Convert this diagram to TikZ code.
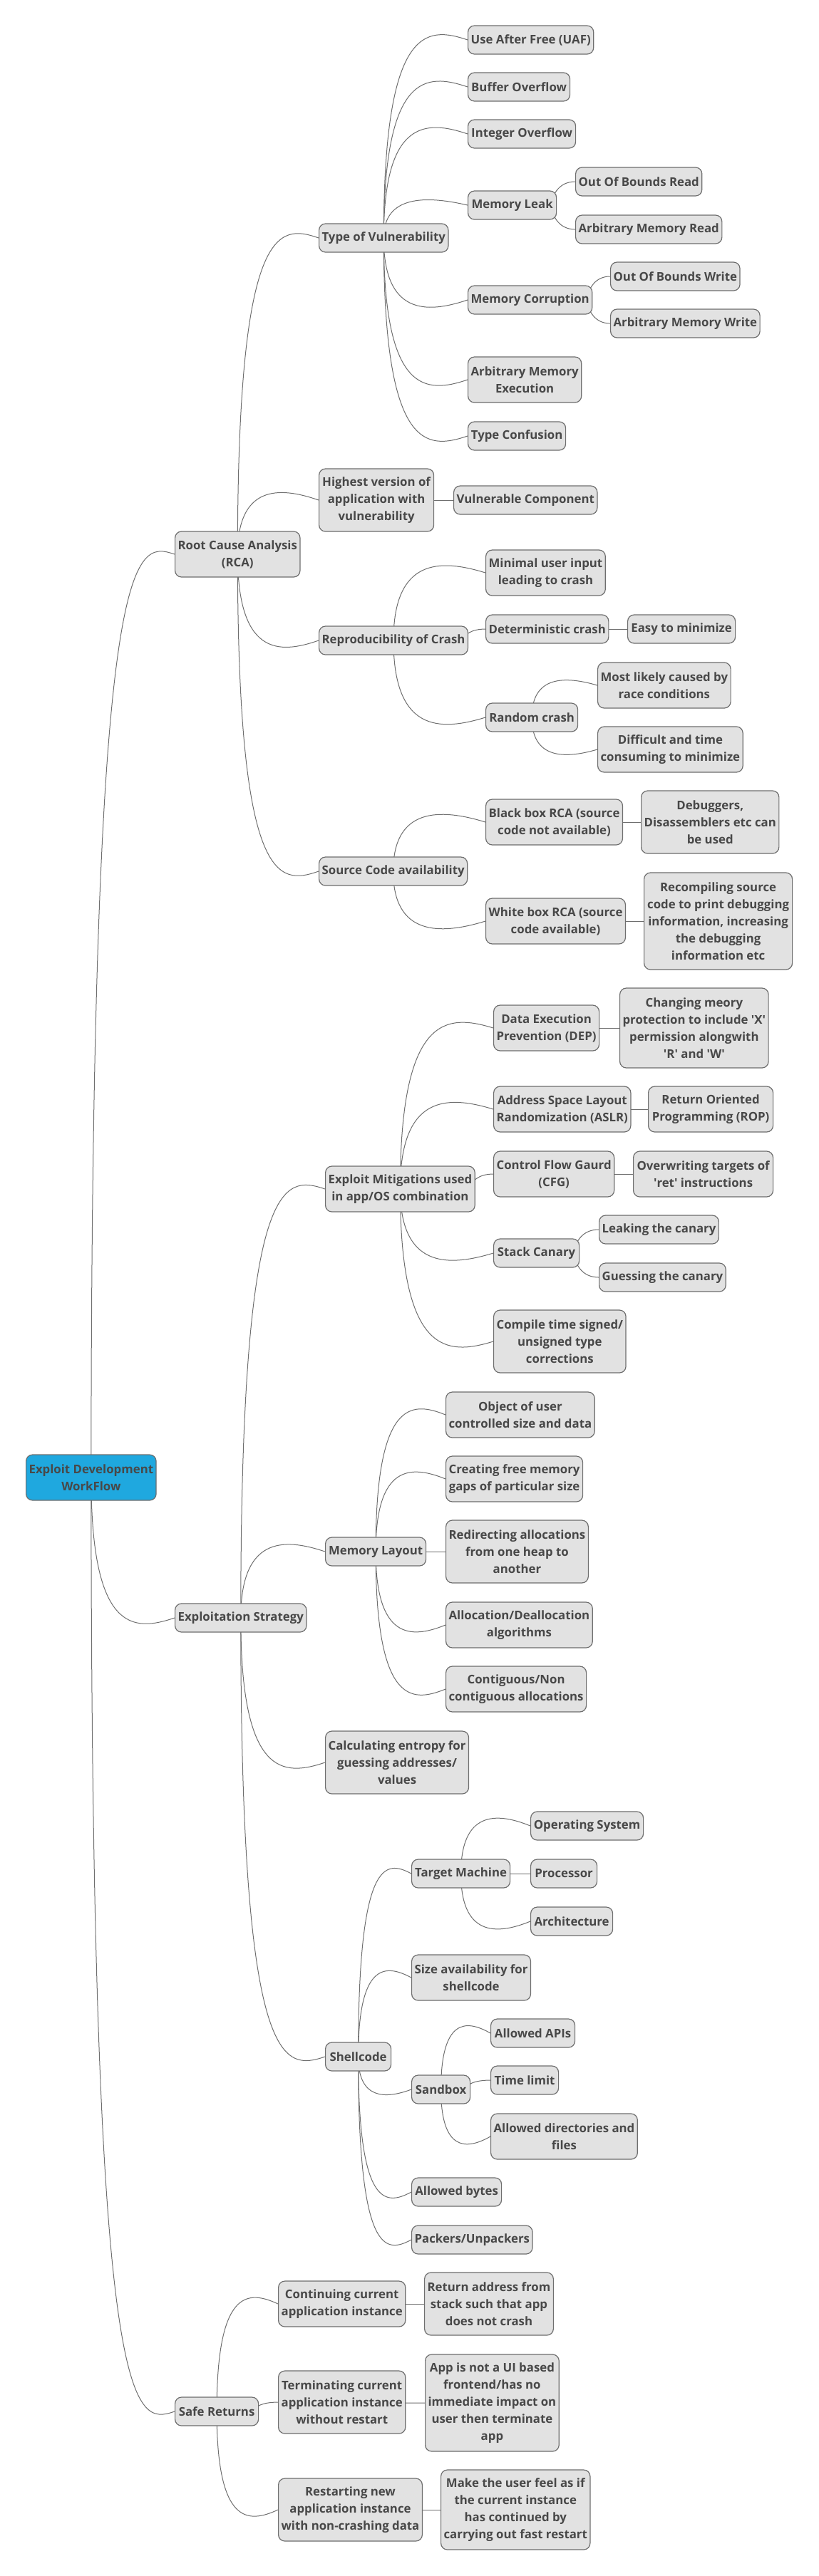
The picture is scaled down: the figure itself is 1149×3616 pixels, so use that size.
\documentclass[tikz,border=0pt]{standalone}
\usepackage{fontspec}
\setmainfont{Open Sans}
\usetikzlibrary{backgrounds,calc}
\definecolor{boxgray}{HTML}{E2E2E2}
\definecolor{edgegray}{HTML}{6E6E6E}
\definecolor{textgray}{HTML}{484848}
\definecolor{rootblue}{HTML}{1FA8DF}
\newcommand{\mmfont}{\fontsize{8.4pt}{12pt}\selectfont\bfseries}
\newcommand{\q}{\textquotesingle}
\tikzset{
	mm/.style={draw=edgegray, fill=boxgray, line width=0.6pt, rounded corners=4.5pt,
		text=textgray, font=\mmfont, align=center, anchor=west,
		inner xsep=2pt, inner ysep=1pt, minimum height=20pt},
	two/.style={minimum height=32pt},
	three/.style={minimum height=44pt},
	four/.style={minimum height=56pt},
	five/.style={minimum height=68pt},
	root/.style={mm, fill=rootblue},
	branch/.style={draw=edgegray, line width=0.5pt,
		to path={let \p1=(\tikztostart.center), \p2=(\tikztotarget.west),
			\n1={sign(\y2-\y1)*min(10,0.3*abs(\y2-\y1))} in
			(\p1) .. controls (\x1,{\y2+\n1*1pt}) and ({0.5*\x1+0.5*\x2},{\y2+\n1*1pt}) .. (\p2)}},
	twig/.style={draw=edgegray, line width=0.5pt,
		to path={let \p1=(\tikztostart.east), \p2=(\tikztotarget.west) in
			({\x1-4pt},\y1) .. controls ({\x1-3pt},{0.5*\y1+0.5*\y2}) and ({\x1+2pt},\y2) .. (\p2)}}
}
\begin{document}
\begin{tikzpicture}[x=0.5pt,y=-0.5pt]
	\useasboundingbox (0,0) rectangle (1149,3616);
	\node [root, two, minimum width=91pt] (root) at (36,2074) {Exploit Development\\WorkFlow};
	% Root Cause Analysis
	\node [mm, two, minimum width=87.5pt] (rca) at (245,778) {Root Cause Analysis\\(RCA)};
	\node [mm, minimum width=90.5pt] (vuln) at (447,334) {Type of Vulnerability};
	\node [mm, minimum width=88pt] (uaf) at (656,56) {Use After Free (UAF)};
	\node [mm, minimum width=71.5pt] (bof) at (656,122) {Buffer Overflow};
	\node [mm, minimum width=75.5pt] (intof) at (656,188) {Integer Overflow};
	\node [mm, minimum width=62pt] (leak) at (656,288) {Memory Leak};
	\node [mm, minimum width=88pt] (oobr) at (807,255) {Out Of Bounds Read};
	\node [mm, minimum width=102pt] (amr) at (807,322) {Arbitrary Memory Read};
	\node [mm, minimum width=86.5pt] (corrupt) at (656,421) {Memory Corruption};
	\node [mm, minimum width=90.5pt] (oobw) at (856,388) {Out Of Bounds Write};
	\node [mm, minimum width=104pt] (amw) at (856,454) {Arbitrary Memory Write};
	\node [mm, two, minimum width=79.5pt] (ame) at (656,533) {Arbitrary Memory\\Execution};
	\node [mm, minimum width=68.5pt] (confusion) at (656,612) {Type Confusion};
	\node [mm, three, minimum width=80.5pt] (highest) at (447,702) {Highest version of\\application with\\vulnerability};
	\node [mm, minimum width=99.5pt] (vulncomp) at (636,702) {Vulnerable Component};
	\node [mm, minimum width=103pt] (repro) at (447,899) {Reproducibility of Crash};
	\node [mm, two, minimum width=83.5pt] (minimal) at (681,804) {Minimal user input\\leading to crash};
	\node [mm, minimum width=85.5pt] (determ) at (681,883) {Deterministic crash};
	\node [mm, minimum width=75.5pt] (easy) at (880,883) {Easy to minimize};
	\node [mm, minimum width=64.5pt] (random) at (681,1007) {Random crash};
	\node [mm, two, minimum width=92.5pt] (race) at (838,962) {Most likely caused by\\race conditions};
	\node [mm, two, minimum width=101pt] (difficult) at (838,1052) {Difficult and time\\consuming to minimize};
	\node [mm, minimum width=103pt] (source) at (447,1223) {Source Code availability};
	\node [mm, two, minimum width=95pt] (blackbox) at (681,1154) {Black box RCA (source\\code not available)};
	\node [mm, three, minimum width=96pt] (debuggers) at (899,1154) {Debuggers,\\Disassemblers etc can\\be used};
	\node [mm, two, minimum width=97pt] (whitebox) at (681,1293) {White box RCA (source\\code available)};
	\node [mm, five, minimum width=104pt] (recompile) at (903,1293) {Recompiling source\\code to print debugging\\information, increasing\\the debugging\\information etc};
	% Exploitation Strategy
	\node [mm, minimum width=92pt] (strat) at (245,2271) {Exploitation Strategy};
	\node [mm, two, minimum width=104pt] (mitig) at (456,1669) {Exploit Mitigations used\\in app/OS combination};
	\node [mm, two, minimum width=74pt] (dep) at (692,1443) {Data Execution\\Prevention (DEP)};
	\node [mm, four, minimum width=103pt] (meory) at (869,1443) {Changing meory\\protection to include \q X\q\\permission alongwith\\\q R\q{} and \q W\q};
	\node [mm, two, minimum width=95pt] (aslr) at (692,1557) {Address Space Layout\\Randomization (ASLR)};
	\node [mm, two, minimum width=87.5pt] (rop) at (909,1557) {Return Oriented\\Programming (ROP)};
	\node [mm, two, minimum width=84.5pt] (cfg) at (692,1648) {Control Flow Gaurd\\(CFG)};
	\node [mm, two, minimum width=98pt] (ret) at (888,1648) {Overwriting targets of\\\q ret\q{} instructions};
	\node [mm, minimum width=60pt] (canary) at (692,1759) {Stack Canary};
	\node [mm, minimum width=83.5pt] (leakc) at (840,1726) {Leaking the canary};
	\node [mm, minimum width=88pt] (guessc) at (840,1793) {Guessing the canary};
	\node [mm, three, minimum width=92.5pt] (compile) at (692,1883) {Compile time signed/\\unsigned type\\corrections};
	\node [mm, minimum width=70.5pt] (layout) at (456,2178) {Memory Layout};
	\node [mm, two, minimum width=103pt] (object) at (625,1986) {Object of user\\controlled size and data};
	\node [mm, two, minimum width=96pt] (gaps) at (625,2076) {Creating free memory\\gaps of particular size};
	\node [mm, three, minimum width=99pt] (redirect) at (625,2178) {Redirecting allocations\\from one heap to\\another};
	\node [mm, two, minimum width=102pt] (alloc) at (625,2281) {Allocation/Deallocation\\algorithms};
	\node [mm, two, minimum width=98pt] (contig) at (625,2371) {Contiguous/Non\\contiguous allocations};
	\node [mm, three, minimum width=100pt] (entropy) at (456,2474) {Calculating entropy for\\guessing addresses/\\values};
	\node [mm, minimum width=46pt] (shell) at (456,2887) {Shellcode};
	\node [mm, minimum width=69pt] (target) at (577,2630) {Target Machine};
	\node [mm, minimum width=79pt] (os) at (744,2563) {Operating System};
	\node [mm, minimum width=46.5pt] (proc) at (744,2630) {Processor};
	\node [mm, minimum width=57.5pt] (arch) at (744,2697) {Architecture};
	\node [mm, two, minimum width=82.5pt] (size) at (577,2776) {Size availability for\\shellcode};
	\node [mm, minimum width=41pt] (sandbox) at (577,2933) {Sandbox};
	\node [mm, minimum width=59pt] (apis) at (688,2854) {Allowed APIs};
	\node [mm, minimum width=47.5pt] (timel) at (688,2920) {Time limit};
	\node [mm, two, minimum width=102pt] (dirs) at (688,2999) {Allowed directories and\\files};
	\node [mm, minimum width=63pt] (bytes) at (577,3077) {Allowed bytes};
	\node [mm, minimum width=84pt] (packers) at (577,3144) {Packers/Unpackers};
	% Safe Returns
	\node [mm, minimum width=58.5pt] (safe) at (245,3385) {Safe Returns};
	\node [mm, two, minimum width=88.5pt] (cont) at (390,3234) {Continuing current\\application instance};
	\node [mm, three, minimum width=90pt] (retaddr) at (595,3234) {Return address from\\stack such that app\\does not crash};
	\node [mm, three, minimum width=89pt] (term) at (390,3372) {Terminating current\\application instance\\without restart};
	\node [mm, five, minimum width=93pt] (uiapp) at (596,3373) {App is not a UI based\\frontend/has no\\immediate impact on\\user then terminate\\app};
	\node [mm, three, minimum width=100pt] (restart) at (390,3523) {Restarting new\\application instance\\with non-crashing data};
	\node [mm, four, minimum width=104pt] (feel) at (618,3523) {Make the user feel as if\\the current instance\\has continued by\\carrying out fast restart};
	\begin{scope}[on background layer]
	\draw
	(root) edge[branch] (rca) edge[branch] (strat) edge[branch] (safe)
	(rca) edge[branch] (vuln) edge[branch] (highest) edge[branch] (repro) edge[branch] (source)
	(vuln) edge[branch] (uaf) edge[branch] (bof) edge[branch] (intof) edge[branch] (leak)
	edge[branch] (corrupt) edge[branch] (ame) edge[branch] (confusion)
	(leak) edge[twig] (oobr) edge[twig] (amr)
	(corrupt) edge[twig] (oobw) edge[twig] (amw)
	(highest) edge[branch] (vulncomp)
	(repro) edge[branch] (minimal) edge[twig] (determ) edge[branch] (random)
	(determ) edge[branch] (easy)
	(random) edge[branch] (race) edge[branch] (difficult)
	(source) edge[branch] (blackbox) edge[branch] (whitebox)
	(blackbox) edge[branch] (debuggers)
	(whitebox) edge[branch] (recompile)
	(strat) edge[branch] (mitig) edge[branch] (layout) edge[branch] (entropy) edge[branch] (shell)
	(mitig) edge[branch] (dep) edge[branch] (aslr) edge[twig] (cfg) edge[branch] (canary) edge[branch] (compile)
	(dep) edge[branch] (meory)
	(aslr) edge[branch] (rop)
	(cfg) edge[branch] (ret)
	(canary) edge[twig] (leakc) edge[twig] (guessc)
	(layout) edge[branch] (object) edge[branch] (gaps) edge[branch] (redirect) edge[branch] (alloc) edge[branch] (contig)
	(shell) edge[branch] (target) edge[branch] (size) edge[branch] (sandbox) edge[branch] (bytes) edge[branch] (packers)
	(target) edge[branch] (os) edge[branch] (proc) edge[branch] (arch)
	(sandbox) edge[branch] (apis) edge[twig] (timel) edge[branch] (dirs)
	(safe) edge[branch] (cont) edge[twig] (term) edge[branch] (restart)
	(cont) edge[branch] (retaddr)
	(term) edge[branch] (uiapp)
	(restart) edge[branch] (feel);
	\end{scope}
\end{tikzpicture}
\end{document}
